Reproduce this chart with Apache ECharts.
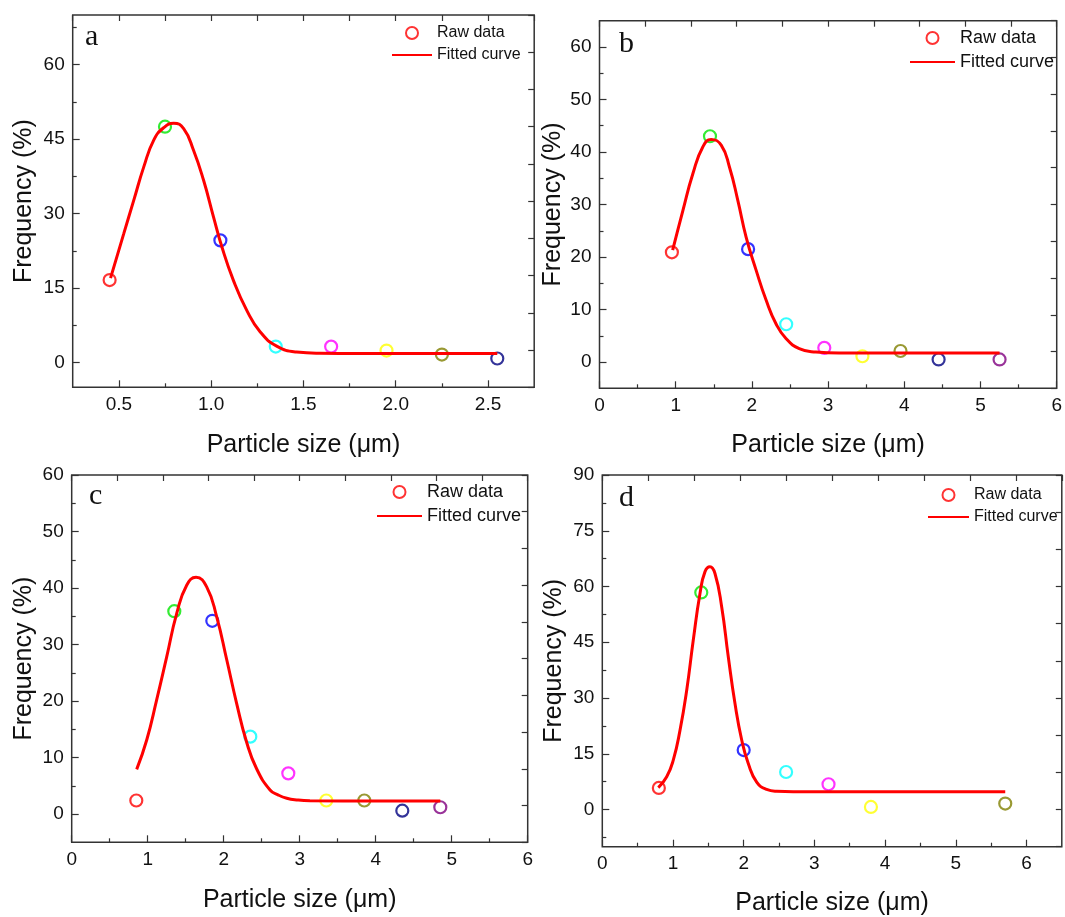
<!DOCTYPE html>
<html lang="en">
<head>
<meta charset="UTF-8">
<title>Particle size distribution</title>
<script src="https://cdn.jsdelivr.net/npm/echarts@6/dist/echarts.min.js"></script>
<style>
    html, body {margin: 0; padding: 0; background: #fff;}
    #main {width: 1065px; height: 917px;}
</style>
</head>
<body>
<div id="main"></div>

<script type="text/javascript">
    // ---- panel a ----
    var aSize = [0.45, 0.75, 1.05, 1.35, 1.65, 1.95, 2.25, 2.55];
    var aFreq = [16.6, 47.5, 24.6, 3.2, 3.2, 2.4, 1.6, 0.8];
    var aFitX = [0.455, 0.527, 0.581, 0.635, 0.689, 0.743, 0.797, 0.851, 0.905, 0.959, 1.013, 1.058, 1.12, 1.193, 1.265, 1.355, 1.463, 1.589, 1.80, 2.20, 2.55];
    var aFitY = [17.0, 26.0, 32.7, 39.4, 44.8, 47.3, 48.2, 47.1, 42.7, 36.7, 29.3, 23.3, 16.6, 10.5, 6.2, 3.3, 2.1, 1.85, 1.8, 1.8, 1.8];
    var aXTicks = [0.5, 1.0, 1.5, 2.0, 2.5];
    var aXMinor = [0.75, 1.25, 1.75, 2.25];
    var aYTicks = [0, 15, 30, 45, 60];
    var aYMinor = [7.5, 22.5, 37.5, 52.5, 67.5];

    // ---- panel b ----
    var bSize = [0.95, 1.45, 1.95, 2.45, 2.95, 3.45, 3.95, 4.45, 5.25];
    var bFreq = [20.9, 43.0, 21.5, 7.2, 2.7, 1.1, 2.1, 0.5, 0.5];
    var bFitX = [0.96, 1.095, 1.226, 1.357, 1.466, 1.597, 1.706, 1.815, 1.924, 2.055, 2.186, 2.316, 2.447, 2.621, 2.839, 3.144, 4.00, 5.25];
    var bFitY = [21.3, 28.9, 35.9, 41.0, 42.4, 41.3, 37.1, 30.8, 23.8, 17.5, 11.8, 7.3, 4.5, 2.55, 1.9, 1.7, 1.7, 1.7];
    var bXTicks = [0, 1, 2, 3, 4, 5, 6];
    var bXMinor = [0.5, 1.5, 2.5, 3.5, 4.5, 5.5];
    var bYTicks = [0, 10, 20, 30, 40, 50, 60];
    var bYMinor = [5, 15, 25, 35, 45, 55];

    // ---- panel c ----
    var cSize = [0.85, 1.35, 1.85, 2.35, 2.85, 3.35, 3.85, 4.35, 4.85];
    var cFreq = [2.4, 35.9, 34.2, 13.7, 7.2, 2.4, 2.4, 0.6, 1.2];
    var cFitX = [0.855, 0.987, 1.118, 1.25, 1.382, 1.513, 1.636, 1.776, 1.908, 2.04, 2.17, 2.30, 2.43, 2.61, 2.72, 2.83, 2.96, 3.135, 4.00, 4.85];
    var cFitY = [7.9, 13.1, 20.2, 27.8, 35.5, 40.5, 41.9, 40.2, 34.9, 27.3, 19.6, 12.8, 8.1, 4.25, 3.36, 2.8, 2.5, 2.35, 2.3, 2.3];
    var cXTicks = [0, 1, 2, 3, 4, 5, 6];
    var cXMinor = [0.5, 1.5, 2.5, 3.5, 4.5, 5.5];
    var cYTicks = [0, 10, 20, 30, 40, 50, 60];
    var cYMinor = [5, 15, 25, 35, 45, 55];

    // ---- panel d ----
    var dSize = [0.8, 1.4, 2.0, 2.6, 3.2, 3.8, 5.7];
    var dFreq = [5.8, 58.4, 16.0, 10.1, 6.8, 0.7, 1.6];
    var dFitX = [0.792, 0.911, 1.004, 1.099, 1.194, 1.287, 1.382, 1.453, 1.523, 1.594, 1.689, 1.782, 1.877, 1.972, 2.065, 2.184, 2.325, 2.467, 2.70, 3.50, 5.70];
    var dFitY = [5.9, 8.8, 13.3, 21.3, 32.1, 45.6, 58.1, 64.0, 65.3, 63.5, 54.5, 41.1, 28.5, 18.7, 12.4, 7.4, 5.4, 4.9, 4.8, 4.8, 4.8];
    var dXTicks = [0, 1, 2, 3, 4, 5, 6];
    var dXMinor = [0.5, 1.5, 2.5, 3.5, 4.5, 5.5];
    var dYTicks = [0, 15, 30, 45, 60, 75, 90];
    var dYMinor = [-7.5, 7.5, 22.5, 37.5, 52.5, 67.5, 82.5];

    // Origin colour increment for the raw-data circles
    var pointColors = ['#ff0000', '#00e600', '#0000ff', '#00ffff', '#ff00ff', '#ffff00', '#808000', '#000080', '#800080'];

    var SANS = 'Liberation Sans, Arial, sans-serif';
    var SERIF = 'Liberation Serif, Times New Roman, serif';

    var panels = [
        {letter: 'a', size: aSize, freq: aFreq, fitX: aFitX, fitY: aFitY, xt: aXTicks, xm: aXMinor, yt: aYTicks, ym: aYMinor,
         xmin: 0.25, xmax: 2.75, ymin: -5, ymax: 70, dec: 1,
         grid: {left: 72.7, top: 15, width: 461.5, height: 372.3},
         legend: {left: 391, top: 25, font: 16, w: 40}, letterPos: [85, 39], yGap: 36, xGap: 45},
        {letter: 'b', size: bSize, freq: bFreq, fitX: bFitX, fitY: bFitY, xt: bXTicks, xm: bXMinor, yt: bYTicks, ym: bYMinor,
         xmin: 0, xmax: 6, ymin: -5, ymax: 65, dec: 0,
         grid: {left: 599.5, top: 20.7, width: 459, height: 367.6},
         legend: {left: 909, top: 29, font: 18, w: 45}, letterPos: [619, 46], yGap: 34, xGap: 44},
        {letter: 'c', size: cSize, freq: cFreq, fitX: cFitX, fitY: cFitY, xt: cXTicks, xm: cXMinor, yt: cYTicks, ym: cYMinor,
         xmin: 0, xmax: 6, ymin: -5, ymax: 60, dec: 0,
         grid: {left: 71.7, top: 475, width: 456, height: 367.3},
         legend: {left: 376, top: 483, font: 18, w: 45}, letterPos: [89, 498], yGap: 35, xGap: 45},
        {letter: 'd', size: dSize, freq: dFreq, fitX: dFitX, fitY: dFitY, xt: dXTicks, xm: dXMinor, yt: dYTicks, ym: dYMinor,
         xmin: 0, xmax: 6.5, ymin: -10, ymax: 90, dec: 0,
         grid: {left: 602.3, top: 475, width: 459.5, height: 371.7},
         legend: {left: 927, top: 487, font: 16, w: 41}, letterPos: [619, 500], yGap: 36, xGap: 44}
    ];

    var grids = [], xAxes = [], yAxes = [], series = [], legends = [], texts = [];
    var tickStyle = {color: '#333', width: 1.2};

    panels.forEach(function (p, i) {
        grids.push({left: p.grid.left, top: p.grid.top, width: p.grid.width, height: p.grid.height,
            show: true, borderColor: '#333', borderWidth: 1.5, backgroundColor: 'transparent'});

        // bottom: major with labels, minor, and the top frame axis
        xAxes.push({
            gridIndex: i, type: 'value', position: 'bottom', min: p.xmin, max: p.xmax,
            axisLine: {show: false, onZero: false}, splitLine: {show: false},
            axisTick: {inside: true, length: 7, customValues: p.xt, lineStyle: tickStyle},
            axisLabel: {customValues: p.xt, margin: 8, fontSize: 19, color: '#111', fontFamily: SANS,
                formatter: function (v) { return v.toFixed(p.dec); }},
            name: 'Particle size (μm)', nameLocation: 'middle', nameGap: p.xGap,
            nameTextStyle: {fontSize: 25, color: '#111', fontFamily: SANS}
        });
        xAxes.push({
            gridIndex: i, type: 'value', position: 'bottom', min: p.xmin, max: p.xmax,
            axisLine: {show: false, onZero: false}, splitLine: {show: false},
            axisTick: {inside: true, length: 4, customValues: p.xm, lineStyle: tickStyle},
            axisLabel: {show: false}
        });
        xAxes.push({
            gridIndex: i, type: 'value', position: 'top', min: 0.25, max: 2.75, interval: 0.25,
            axisLine: {show: false, onZero: false}, splitLine: {show: false},
            axisTick: {inside: true, length: 6, lineStyle: tickStyle},
            axisLabel: {show: false}
        });

        yAxes.push({
            gridIndex: i, type: 'value', position: 'left', min: p.ymin, max: p.ymax,
            axisLine: {show: false, onZero: false}, splitLine: {show: false},
            axisTick: {inside: true, length: 7, customValues: p.yt, lineStyle: tickStyle},
            axisLabel: {customValues: p.yt, margin: 8, fontSize: 19, color: '#111', fontFamily: SANS},
            name: 'Frequency (%)', nameLocation: 'middle', nameGap: p.yGap,
            nameTextStyle: {fontSize: 25, color: '#111', fontFamily: SANS}
        });
        yAxes.push({
            gridIndex: i, type: 'value', position: 'left', min: p.ymin, max: p.ymax,
            axisLine: {show: false, onZero: false}, splitLine: {show: false},
            axisTick: {inside: true, length: 4, customValues: p.ym, lineStyle: tickStyle},
            axisLabel: {show: false}
        });
        yAxes.push({
            gridIndex: i, type: 'value', position: 'right', min: -7.5, max: 67.5, interval: 7.5,
            axisLine: {show: false, onZero: false}, splitLine: {show: false},
            axisTick: {inside: true, length: 6, lineStyle: tickStyle},
            axisLabel: {show: false}
        });

        series.push({
            type: 'scatter', name: 'Raw data', xAxisIndex: 3 * i, yAxisIndex: 3 * i,
            symbol: 'circle', symbolSize: 12, z: 2,
            itemStyle: {color: 'rgba(255,255,255,0)', borderColor: '#ff0000', borderWidth: 2.2},
            data: p.size.map(function (x, k) {
                return {value: [x, p.freq[k]], itemStyle: {borderColor: pointColors[k]}};
            })
        });
        series.push({
            type: 'line', name: 'Fitted curve', xAxisIndex: 3 * i, yAxisIndex: 3 * i,
            smooth: true, symbol: 'none', z: 3,
            lineStyle: {color: '#ff0000', width: 3}, itemStyle: {color: '#ff0000'},
            data: p.fitX.map(function (x, k) { return [x, p.fitY[k]]; })
        });

        legends.push({
            left: p.legend.left, top: p.legend.top, orient: 'vertical', padding: 0,
            itemWidth: p.legend.w, itemHeight: 12, itemGap: 6, selectedMode: false,
            textStyle: {fontSize: p.legend.font, color: '#111', fontFamily: SANS},
            data: ['Raw data', {name: 'Fitted curve', itemStyle: {opacity: 0}}]
        });

        texts.push({
            type: 'text', left: p.letterPos[0], top: p.letterPos[1] - 17,
            style: {text: p.letter, fontSize: 30, fontFamily: SERIF, fill: '#111'}
        });
    });

    var myChart = echarts.init(document.getElementById('main'));
    myChart.setOption({
        animation: false,
        backgroundColor: '#fff',
        grid: grids,
        xAxis: xAxes,
        yAxis: yAxes,
        legend: legends,
        graphic: texts,
        series: series
    });
</script>
</body>
</html>
